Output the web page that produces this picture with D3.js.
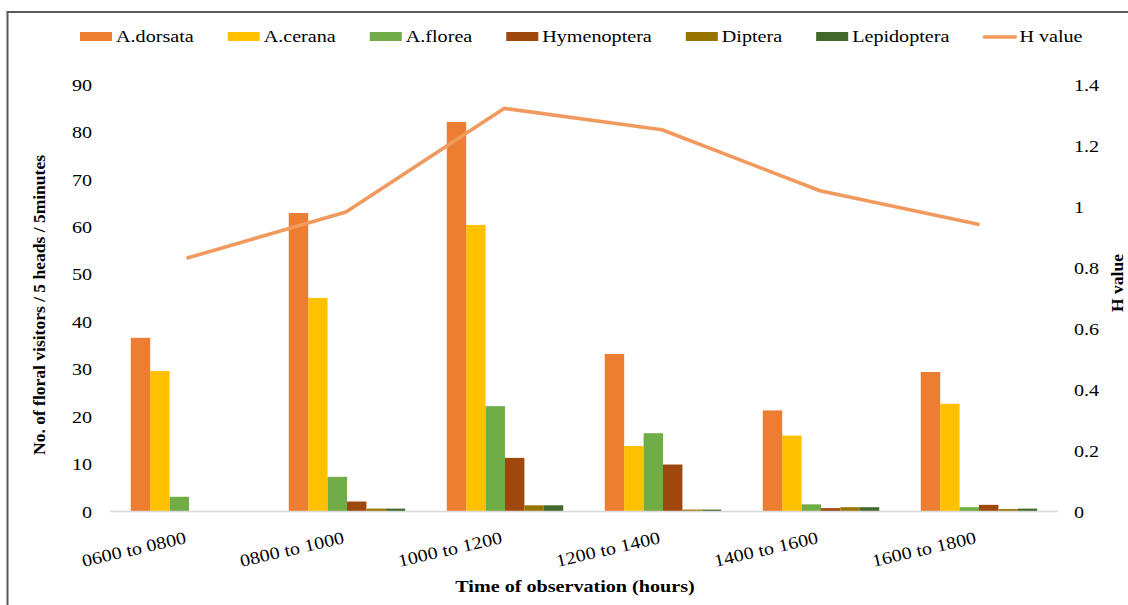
<!DOCTYPE html>
<html>
<head>
<meta charset="utf-8">
<script src="https://cdn.jsdelivr.net/npm/d3@7"></script>
<style>
  html, body { margin: 0; padding: 0; background: #fff; }
  svg { display: block; }
  text { font-family: "Liberation Serif", "Times New Roman", serif; fill: #000; }
</style>
</head>
<body>
<svg id="chart" width="1128" height="605"></svg>
<script>
// ---- data ----
const categories = ["0600 to 0800", "0800 to 1000", "1000 to 1200", "1200 to 1400", "1400 to 1600", "1600 to 1800"];
const seriesNames = ["A.dorsata", "A.cerana", "A.florea", "Hymenoptera", "Diptera", "Lepidoptera"];
const dorsata     = [36.5, 62.8, 82.0, 33.1, 21.2, 29.3];
const cerana      = [29.5, 44.9, 60.3, 13.7, 15.9, 22.6];
const florea      = [3.0, 7.2, 22.1, 16.4, 1.4, 0.8];
const hymenoptera = [0, 2.0, 11.2, 9.8, 0.6, 1.3];
const diptera     = [0, 0.5, 1.2, 0.3, 0.8, 0.4];
const lepidoptera = [0, 0.5, 1.2, 0.3, 0.8, 0.5];
const hValue      = [0.83, 0.98, 1.32, 1.25, 1.05, 0.94];
const leftTicks   = [0, 10, 20, 30, 40, 50, 60, 70, 80, 90];
const rightTicks  = [0, 0.2, 0.4, 0.6, 0.8, 1, 1.2, 1.4];
const lineName    = "H value";
const colors      = ["#ED7D31", "#FFC000", "#70AD47", "#9E480E", "#997300", "#43682B"];
const lineColor   = "#F09A5E";

const seriesValues = [dorsata, cerana, florea, hymenoptera, diptera, lepidoptera];
const table = categories.map((c, i) => {
  const row = { category: c };
  seriesNames.forEach((s, k) => row[s] = seriesValues[k][i]);
  return row;
});

const STRETCH = 1.15;
function stretch(sel) {
  let total = 0;
  sel.each(function () {
    const w = this.getComputedTextLength();
    if (w > 0) {
      this.setAttribute("textLength", w * STRETCH);
      this.setAttribute("lengthAdjust", "spacingAndGlyphs");
      total = w * STRETCH;
    }
  });
  return total;
}

const svg = d3.select("#chart");
const plot = { left: 110, right: 1058, top: 84, bottom: 511 };

// frame
svg.append("path")
  .attr("d", `M7.5,605 L7.5,12 L1128,12`)
  .attr("fill", "none").attr("stroke", "#595959").attr("stroke-width", 2);

const x0 = d3.scaleBand().domain(categories).range([plot.left, plot.right]).paddingInner(0).paddingOuter(0);
const x1 = d3.scaleBand().domain(seriesNames).range([0, x0.bandwidth()]).paddingInner(0).paddingOuter(1.07);
const yL = d3.scaleLinear().domain([0, 90]).range([plot.bottom, plot.top]);
const yR = d3.scaleLinear().domain([0, 1.4]).range([plot.bottom, plot.top]);

// bars
const groups = svg.append("g").selectAll("g").data(table).join("g")
  .attr("transform", d => `translate(${x0(d.category)},0)`);
groups.selectAll("rect")
  .data(d => seriesNames.map((s, k) => ({ key: s, value: d[s], color: colors[k] })))
  .join("rect")
  .attr("x", d => x1(d.key))
  .attr("width", x1.bandwidth())
  .attr("y", d => yL(d.value))
  .attr("height", d => yL(0) - yL(d.value))
  .attr("fill", d => d.color);

// baseline
svg.append("line")
  .attr("x1", plot.left).attr("x2", plot.right)
  .attr("y1", yL(0) + 0.5).attr("y2", yL(0) + 0.5)
  .attr("stroke", "#D9D9D9").attr("stroke-width", 1.3);

// H value line
const line = d3.line()
  .x((d, i) => x0(categories[i]) + x0.bandwidth() / 2 - 1)
  .y(d => yR(d));
svg.append("path").datum(hValue)
  .attr("d", line)
  .attr("fill", "none").attr("stroke", lineColor).attr("stroke-width", 3.6)
  .attr("stroke-linecap", "round").attr("stroke-linejoin", "round");

// left axis
const axL = svg.append("g").attr("transform", `translate(${plot.left},0)`)
  .call(d3.axisLeft(yL).tickValues(leftTicks).tickSize(0).tickPadding(18));
axL.select(".domain").remove();
axL.selectAll("text").attr("font-size", 17.5).attr("fill", "#000").attr("dy", "0.35em");
stretch(axL.selectAll("text"));

// right axis
const axR = svg.append("g").attr("transform", `translate(${plot.right},0)`)
  .call(d3.axisRight(yR).tickValues(rightTicks).tickSize(0).tickPadding(16).tickFormat(d => String(+d.toFixed(1))));
axR.select(".domain").remove();
axR.selectAll("text").attr("font-size", 17.5).attr("fill", "#000").attr("dy", "0.35em");
stretch(axR.selectAll("text"));

// bottom axis labels
const axB = svg.append("g").attr("transform", `translate(0,${plot.bottom})`)
  .call(d3.axisBottom(x0).tickSize(0));
axB.select(".domain").remove();
axB.selectAll("text")
  .attr("font-size", 17.5).attr("fill", "#000")
  .attr("text-anchor", "end").attr("y", 0).attr("dy", 0)
  .attr("transform", "translate(-2,32) rotate(-13)");
stretch(axB.selectAll("text"));

// axis titles
svg.append("text")
  .attr("x", 575).attr("y", 592).attr("text-anchor", "middle")
  .attr("font-size", 17.5).attr("font-weight", "bold")
  .text("Time of observation (hours)")
  .call(stretch);
svg.append("text")
  .attr("transform", "translate(45,305) rotate(-90)").attr("text-anchor", "middle")
  .attr("font-size", 17.5).attr("font-weight", "bold")
  .text("No. of floral visitors / 5 heads / 5minutes");
svg.append("text")
  .attr("transform", "translate(1123,283) rotate(-90)").attr("text-anchor", "middle")
  .attr("font-size", 17.5).attr("font-weight", "bold")
  .text("H value");

// legend
const legend = svg.append("g");
let lx = 80;
const legendItems = seriesNames.map((s, k) => ({ name: s, color: colors[k], type: "rect" }))
  .concat([{ name: lineName, color: lineColor, type: "line" }]);
legendItems.forEach(item => {
  if (item.type === "rect") {
    legend.append("rect").attr("x", lx).attr("y", 32).attr("width", 32).attr("height", 9).attr("fill", item.color);
  } else {
    legend.append("line").attr("x1", lx + 1).attr("x2", lx + 32).attr("y1", 37).attr("y2", 37)
      .attr("stroke", item.color).attr("stroke-width", 3.6).attr("stroke-linecap", "round");
  }
  const t = legend.append("text").attr("x", lx + 36).attr("y", 42).attr("font-size", 17.5).text(item.name);
  const w = stretch(t);
  lx += 36 + w + 34;
});
</script>
</body>
</html>
